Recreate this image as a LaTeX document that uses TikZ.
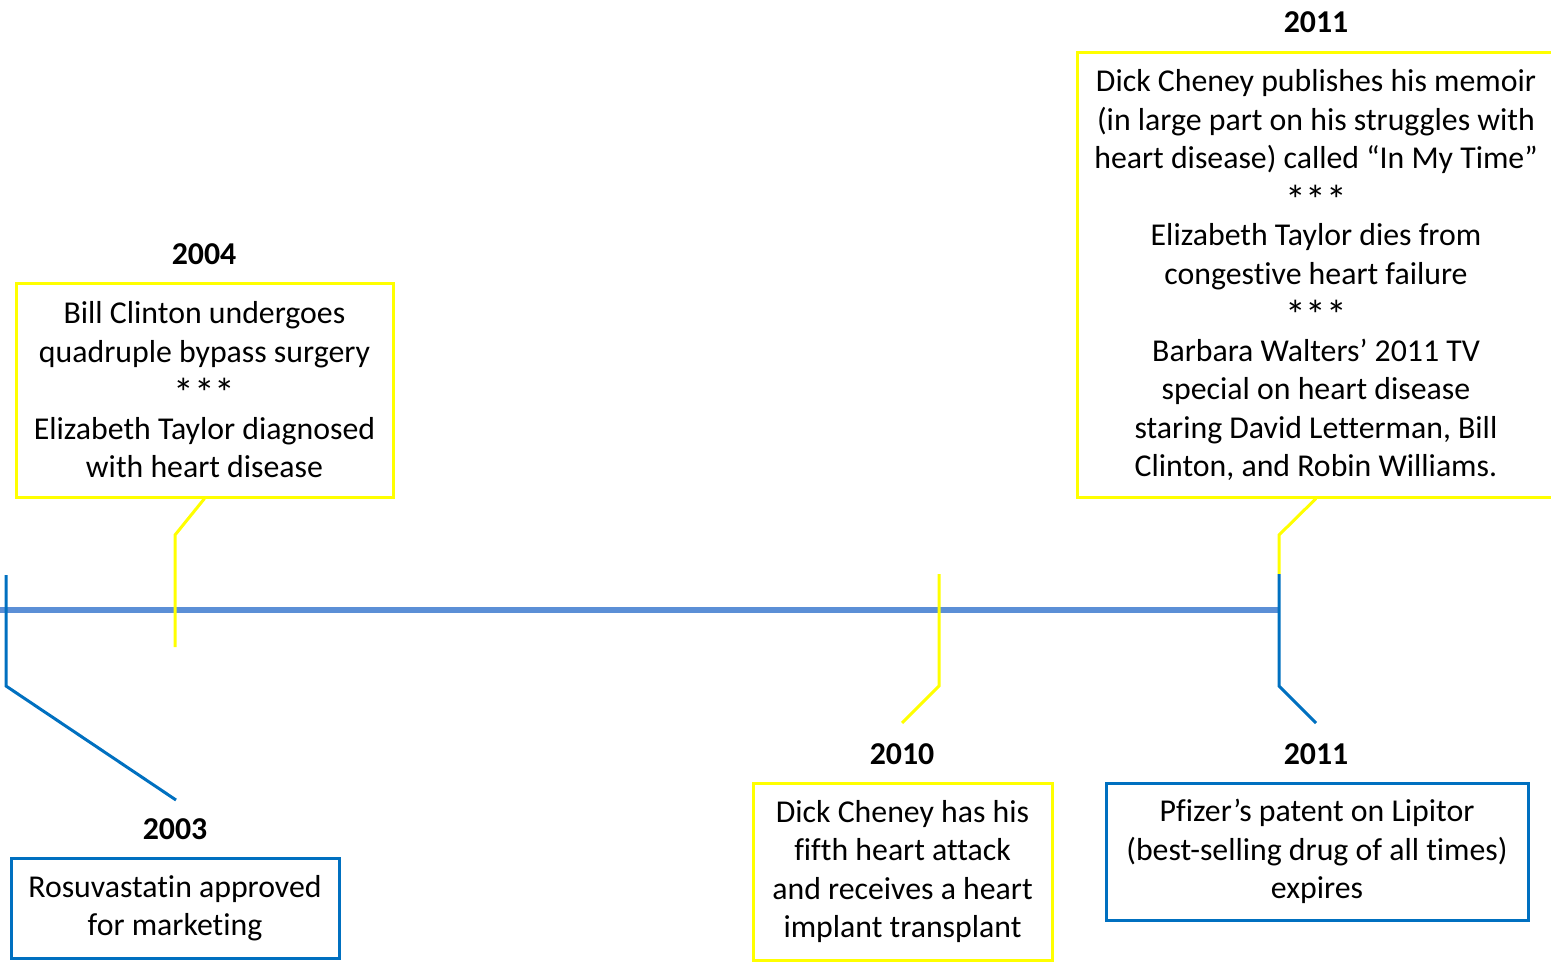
\documentclass[tikz,border=0pt]{standalone}
\usepackage{fontspec}
\setmainfont[Ligatures={NoCommon}]{Carlito}
\definecolor{ylw}{HTML}{FFFF00}
\definecolor{dblue}{HTML}{0070C0}
\definecolor{tline}{HTML}{5B8FD6}
\newcommand{\stars}{\raisebox{-7pt}[\height][0pt]{\scalebox{1.3}{***}}}
\tikzset{
  evbox/.style={draw=#1, line width=3pt, align=center, inner sep=0pt,
    font=\fontsize{31.8}{38.5}\selectfont},
  yearlbl/.style={font=\fontsize{31.8}{36}\selectfont\bfseries, inner sep=0pt},
  conn/.style={draw=#1, line width=3pt},
}
\begin{document}
\begin{tikzpicture}[x=1pt,y=-1pt]
\useasboundingbox (0,0) rectangle (1551,963);
% timeline
\coordinate (tl0) at (0,610);
\coordinate (tl1) at (1279,610);
\draw[tline, line width=6pt] (tl0) -- (tl1);

% 2003
\node[evbox=dblue, minimum width=328pt, minimum height=100pt] (b03) at (175,908)
  {Rosuvastatin approved\\ for marketing};
\node[yearlbl] (y03) at (175,829) {2003};
\coordinate (c03a) at (6,575);
\coordinate (c03b) at (6,686);
\coordinate (c03c) at (176,800);
\draw[conn=dblue] (c03a) -- (c03b) -- (c03c);

% 2004
\node[evbox=ylw, minimum width=377pt, minimum height=214pt] (b04) at (204.5,390)
  {Bill Clinton undergoes\\ quadruple bypass surgery\\ \stars\\ Elizabeth Taylor diagnosed\\ with heart disease};
\node[yearlbl] (y04) at (204,254) {2004};
\coordinate (c04a) at (175,647);
\coordinate (c04b) at (175,535);
\draw[conn=ylw] (c04a) -- (c04b) -- (b04.south);

% 2010
\node[evbox=ylw, minimum width=299pt, minimum height=177pt] (b10) at (902.5,871.5)
  {Dick Cheney has his\\ fifth heart attack\\ and receives a heart\\ implant transplant};
\node[yearlbl] (y10) at (902,754) {2010};
\coordinate (c10a) at (939,574);
\coordinate (c10b) at (939,686);
\coordinate (c10c) at (902,723);
\draw[conn=ylw] (c10a) -- (c10b) -- (c10c);

% 2011 bottom
\node[evbox=dblue, minimum width=422pt, minimum height=137pt] (b11b) at (1317,851.5)
  {Pfizer’s patent on Lipitor\\ (best-selling drug of all times)\\ expires};
\node[yearlbl] (y11b) at (1316,754) {2011};
\coordinate (c11a) at (1279,574);
\coordinate (c11b) at (1279,686);
\coordinate (c11c) at (1316,723);

% 2011 top
\node[evbox=ylw, minimum width=478pt, minimum height=444pt] (b11t) at (1316,275)
  {Dick Cheney publishes his memoir\\ (in large part on his struggles with\\ heart disease) called “In My Time”\\ \stars\\ Elizabeth Taylor dies from\\ congestive heart failure\\ \stars\\ Barbara Walters’ 2011 TV\\ special on heart disease\\ staring David Letterman, Bill\\ Clinton, and Robin Williams.};
\node[yearlbl] (y11t) at (1316,22) {2011};
\coordinate (c11d) at (1279,535);
\draw[conn=ylw] (c11a) -- (c11d) -- (b11t.south);
\draw[conn=dblue] (c11a) -- (c11b) -- (c11c);
\end{tikzpicture}
\end{document}
